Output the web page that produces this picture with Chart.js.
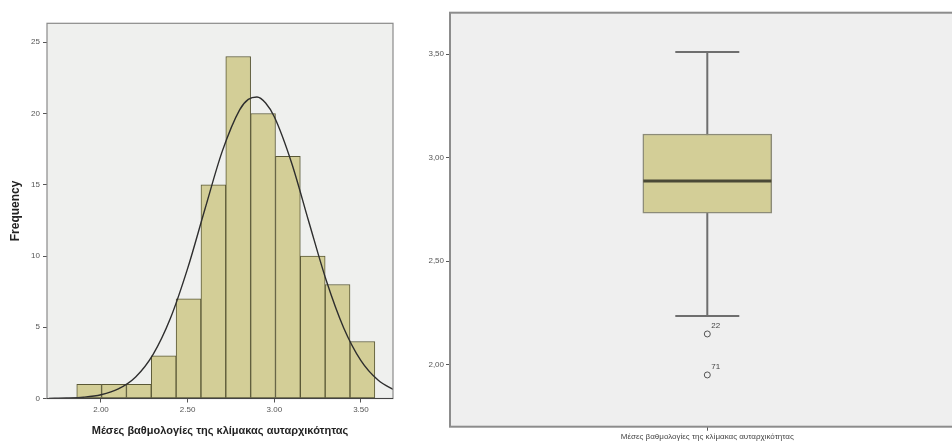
<!DOCTYPE html>
<html lang="el">
<head>
<meta charset="UTF-8">
<title>Κλίμακα αυταρχικότητας</title>
<script src="https://cdn.jsdelivr.net/npm/chart.js"></script>
<style>
  html, body { margin: 0; padding: 0; background: #fff; overflow: hidden; }
  body { width: 952px; height: 444px; position: relative; }
  #histWrap { position: absolute; left: 0; top: 0; width: 400px; height: 444px; }
  #boxWrap { position: absolute; left: 400px; top: 0; width: 552px; height: 444px; overflow: hidden; }
  #histChart { display: block; width: 400px; height: 444px; }
  #boxChart { display: block; width: 580px; height: 444px; }
</style>
</head>
<body>
<div id="histWrap"><canvas id="histChart" width="400" height="444"></canvas></div>
<div id="boxWrap"><canvas id="boxChart" width="580" height="444"></canvas></div>
<script>
// --- histogram data ---
var binCenters = [1.9317, 2.0751, 2.2184, 2.3618, 2.5051, 2.6485, 2.7918, 2.9352, 3.0785, 3.2219, 3.3652, 3.5086];
var frequencies = [1, 1, 1, 3, 7, 15, 24, 20, 17, 10, 8, 4];
// normal curve
var curveX = [1.70, 1.80, 1.90, 2.00, 2.10, 2.20, 2.30, 2.40, 2.50, 2.60, 2.70, 2.80, 2.85, 2.90, 2.95, 3.00, 3.10, 3.20, 3.30, 3.40, 3.50, 3.60, 3.70];
var curveY = [0.01, 0.03, 0.09, 0.26, 0.67, 1.51, 3.08, 5.61, 9.13, 13.3, 17.36, 20.26, 20.99, 21.16, 20.74, 19.77, 16.53, 12.37, 8.28, 4.97, 2.66, 1.28, 0.55];
var histXTicks = [2.0, 2.5, 3.0, 3.5];
var histXLabels = ['2.00', '2.50', '3.00', '3.50'];
var histYTicks = [0, 5, 10, 15, 20, 25];
var histYLabels = ['0', '5', '10', '15', '20', '25'];
var varLabel = 'Μέσες βαθμολογίες της κλίμακας αυταρχικότητας';

// --- boxplot data ---
var whiskerLow = 2.235;
var q1 = 2.732;
var median = 2.887;
var q3 = 3.114;
var whiskerHigh = 3.51;
var outlierValues = [2.148, 1.95];
var outlierIds = ['22', '71'];
var boxYTicks = [2.0, 2.5, 3.0, 3.5];
var boxYLabels = ['2,00', '2,50', '3,00', '3,50'];

var FONT = "'Liberation Sans', Arial, sans-serif";
Chart.defaults.font.family = FONT;
Chart.defaults.animation = false;

var plotFrame = {
  id: 'plotFrame',
  beforeDraw: function (chart, args, opts) {
    var a = chart.chartArea, ctx = chart.ctx;
    ctx.save();
    ctx.fillStyle = opts.background;
    ctx.fillRect(a.left, a.top, a.right - a.left, a.bottom - a.top);
    ctx.restore();
  },
  afterDatasetsDraw: function (chart, args, opts) {
    var a = chart.chartArea, ctx = chart.ctx;
    ctx.save();
    ctx.strokeStyle = opts.color;
    ctx.lineWidth = opts.width;
    ctx.strokeRect(a.left, a.top, a.right - a.left, a.bottom - a.top);
    if (opts.axisColor) {
      ctx.strokeStyle = opts.axisColor;
      ctx.lineWidth = 1.2;
      ctx.beginPath();
      ctx.moveTo(a.left, a.bottom);
      ctx.lineTo(a.right, a.bottom);
      ctx.stroke();
    }
    ctx.restore();
  }
};

function fixedTicks(values) {
  return function (scale) {
    scale.ticks = values.map(function (v) { return { value: v }; });
  };
}

new Chart(document.getElementById('histChart'), {
  type: 'bar',
  data: {
    datasets: [{
      type: 'line',
      data: curveX.map(function (x, i) { return { x: x, y: curveY[i] }; }),
      borderColor: '#2e2e2e',
      borderWidth: 1.4,
      pointRadius: 0,
      cubicInterpolationMode: 'monotone',
      order: 0
    }, {
      type: 'bar',
      data: binCenters.map(function (x, i) { return { x: x, y: frequencies[i] }; }),
      backgroundColor: '#d3ce97',
      borderColor: '#5a5836',
      borderWidth: 1,
      borderSkipped: false,
      barPercentage: 1,
      categoryPercentage: 1,
      order: 1
    }]
  },
  options: {
    responsive: false,
    layout: { autoPadding: false, padding: { top: 23.3, right: 7, left: 0, bottom: 0 } },
    plugins: {
      legend: { display: false },
      tooltip: { enabled: false },
      plotFrame: { background: '#eff0ee', color: '#8a8a8a', width: 1.2, axisColor: '#444' }
    },
    scales: {
      x: {
        type: 'linear',
        offset: false,
        min: 1.6884,
        max: 3.685,
        afterBuildTicks: fixedTicks(histXTicks),
        afterFit: function (s) { s.height = 45.5; },
        grid: { offset: false, drawOnChartArea: false, tickLength: 4, color: '#555' },
        border: { display: false },
        ticks: {
          maxRotation: 0, autoSkip: false, padding: 2, color: '#555',
          font: { size: 8 },
          callback: function (v, i) { return histXLabels[i]; }
        },
        title: {
          display: true, text: varLabel, color: '#222',
          font: { size: 11, weight: 'bold' },
          padding: { top: 0, bottom: 6.4 }
        }
      },
      y: {
        min: 0,
        max: 26.33,
        afterBuildTicks: fixedTicks(histYTicks),
        afterFit: function (s) { s.width = 47; },
        grid: { drawOnChartArea: false, tickLength: 4, color: '#555' },
        border: { display: false },
        ticks: {
          padding: 3, color: '#555', font: { size: 8 },
          callback: function (v, i) { return histYLabels[i]; }
        },
        title: {
          display: true, text: 'Frequency', color: '#222',
          font: { size: 12, weight: 'bold' },
          padding: { top: 8, bottom: 0 }
        }
      }
    }
  },
  plugins: [plotFrame]
});

var outlierLabels = {
  id: 'outlierLabels',
  afterDatasetsDraw: function (chart) {
    var ctx = chart.ctx;
    var meta = chart.getDatasetMeta(4);
    ctx.save();
    ctx.fillStyle = '#444';
    ctx.font = '8px ' + FONT;
    ctx.textAlign = 'left';
    ctx.textBaseline = 'middle';
    meta.data.forEach(function (pt, i) {
      ctx.fillText(outlierIds[i], pt.x + 4, pt.y - 8);
    });
    ctx.restore();
  }
};

new Chart(document.getElementById('boxChart'), {
  type: 'bar',
  data: {
    datasets: [{
      type: 'line',
      data: [{ x: 0, y: whiskerLow }, { x: 0, y: whiskerHigh }],
      borderColor: '#6e6e6e',
      borderWidth: 2,
      pointRadius: 0,
      order: 5
    }, {
      type: 'bar',
      data: [{ x: 0, y: [q1, q3] }],
      backgroundColor: '#d3ce97',
      borderColor: '#8c8b78',
      borderWidth: 1.5,
      borderSkipped: false,
      barThickness: 129,
      order: 4
    }, {
      type: 'scatter',
      data: [{ x: 0, y: median }],
      pointStyle: 'line',
      pointRadius: 64,
      pointBorderWidth: 3,
      pointBorderColor: '#4a4936',
      order: 3
    }, {
      type: 'scatter',
      data: [{ x: 0, y: whiskerLow }, { x: 0, y: whiskerHigh }],
      pointStyle: 'line',
      pointRadius: 32,
      pointBorderWidth: 2,
      pointBorderColor: '#6e6e6e',
      order: 3
    }, {
      type: 'scatter',
      data: outlierValues.map(function (v) { return { x: 0, y: v }; }),
      pointStyle: 'circle',
      pointRadius: 3,
      pointBorderWidth: 1,
      pointBorderColor: '#555',
      pointBackgroundColor: 'rgba(0,0,0,0)',
      order: 1
    }]
  },
  options: {
    responsive: false,
    layout: { autoPadding: false, padding: { top: 12.7, right: 15.4, left: 0, bottom: 0 } },
    plugins: {
      legend: { display: false },
      tooltip: { enabled: false },
      plotFrame: { background: '#efefef', color: '#8c8c8c', width: 2 }
    },
    scales: {
      x: {
        type: 'linear',
        offset: false,
        min: -1,
        max: 1,
        afterBuildTicks: fixedTicks([0]),
        afterFit: function (s) { s.height = 17.3; },
        grid: { offset: false, drawOnChartArea: false, tickLength: 4, color: '#555' },
        border: { display: false },
        ticks: {
          maxRotation: 0, autoSkip: false, padding: 1.5, color: '#444',
          font: { size: 8 },
          callback: function () { return varLabel; }
        }
      },
      y: {
        min: 1.70,
        max: 3.70,
        afterBuildTicks: fixedTicks(boxYTicks),
        afterFit: function (s) { s.width = 50; },
        grid: { drawOnChartArea: false, tickLength: 4, color: '#555' },
        border: { display: false },
        ticks: {
          padding: 2, color: '#555', font: { size: 8 },
          callback: function (v, i) { return boxYLabels[i]; }
        }
      }
    }
  },
  plugins: [plotFrame, outlierLabels]
});
</script>
</body>
</html>
